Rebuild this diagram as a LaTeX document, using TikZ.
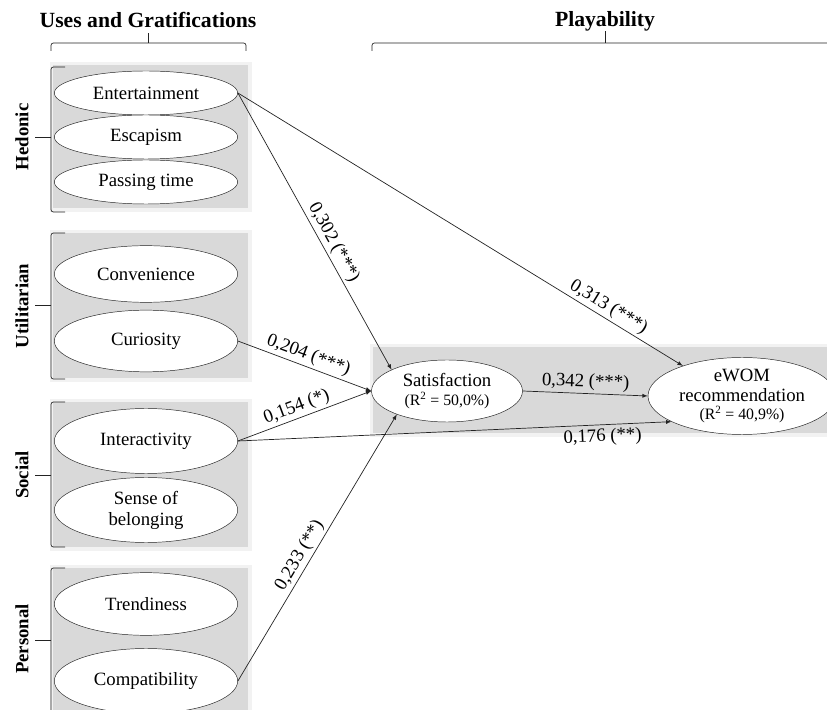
\documentclass[tikz,border=0pt]{standalone}
\usepackage{fontspec}
\setmainfont{Liberation Serif}
\usepackage{xcolor}
\usepackage{tikz}
\usetikzlibrary{positioning, shapes.geometric, arrows}
\definecolor{panel}{RGB}{217, 217, 217}
\definecolor{ink}{RGB}{35, 35, 35}

\begin{document}
\begin{tikzpicture}[x=0.03cm, y=-0.03cm,
        construct/.style={ellipse, draw=ink, fill=white, minimum width=5.5cm, minimum height=#1, inner sep=0pt, align=center, font=\fontsize{16}{18}\selectfont},
        construct/.default=1.9cm,
        group/.style={fill=panel, draw=none},
        bracket/.style={draw=ink, line width=0.6pt, rounded corners=2pt},
        dimension/.style={rotate=90, font=\fontsize{16}{18}\selectfont\bfseries},
        heading/.style={font=\fontsize{18.5}{20}\selectfont\bfseries},
        effect/.style={-latex, draw=ink, line width=0.6pt},
        coef/.style={font=\fontsize{16}{18}\selectfont, sloped, inner sep=2pt}
    ]

        \useasboundingbox (0,0) rectangle (827,710);
        \clip (0,0) rectangle (827,710);

        \foreach \xa/\ya/\xb/\yb in {53/65/248/208, 53/233/248/378, 53/402/248/547, 53/568/248/720, 373/347/840/433}{
            \fill[panel, opacity=0.35] ({\xa-3},{\ya-3}) rectangle ({\xb+4},{\yb+4});
            \fill[group] (\xa,\ya) rectangle (\xb,\yb);
        }

        \node (ug) [heading] at (148,20) {Uses and Gratifications};
        \node (play) [heading] at (605,21) {Playability};
        \draw[bracket] (51,51) -- (51,43) -- (246,43) -- (246,51);
        \draw[bracket] (148,43) -- (148,33);
        \draw[bracket] (372,51) -- (372,43) -- (840,43);
        \draw[bracket] (605,43) -- (605,31);

        \foreach \ytop/\ybot/\ymid in {67/212/137, 233/379/305, 402/547/475, 568/730/640}{
            \draw[bracket] (65,\ytop) -- (51,\ytop) -- (51,\ybot) -- (65,\ybot);
            \draw[bracket] (51,\ymid) -- (35,\ymid);
        }

        \node (hedonic) [dimension] at (22,137) {Hedonic};
        \node (utilitarian) [dimension] at (22,306) {Utilitarian};
        \node (social) [dimension] at (22,475) {Social};
        \node (personal) [dimension] at (22,639) {Personal};

        \node (ent) [construct=1.32cm] at (146,93) {Entertainment};
        \node (esc) [construct=1.32cm] at (146,137) {Escapism};
        \node (pass) [construct=1.32cm] at (146,182) {Passing time};
        \node (conv) [construct=1.7cm] at (146,274) {Convenience};
        \node (cur) [construct=1.85cm] at (146,341) {Curiosity};
        \node (inter) [construct=1.95cm] at (146,441) {Interactivity};
        \node (belong) [construct=1.95cm] at (146,510) {Sense of\\belonging};
        \node (trend) [construct=1.88cm] at (146,604) {Trendiness};
        \node (comp) [construct=1.95cm] at (146,681) {Compatibility};

        \node (sat) [construct=1.86cm, minimum width=4.53cm] at (447,391) {Satisfaction\\[-2pt]{\fontsize{13.5}{15}\selectfont (R\textsuperscript{2} = 50,0\%)}};
        \node (ewom) [construct=2.04cm, minimum width=5.64cm] at (742,396) {eWOM\\[-1pt]recommendation\\[-2pt]{\fontsize{13.5}{15}\selectfont (R\textsuperscript{2} = 40,9\%)}};

        \draw[effect] (ent.east) -- node[coef, above, pos=0.56] {0,302 (***)} (sat.159);
        \draw[effect] (ent.east) -- node[coef, above, pos=0.82] {0,313 (***)} (ewom.153);
        \draw[effect] (cur.east) -- node[coef, above, pos=0.5] {0,204 (***)} (sat.west);
        \draw[effect] (inter.east) -- node[coef, above, pos=0.47] {0,154 (*)} (sat.west);
        \draw[effect] (inter.east) -- node[coef, below, pos=0.84, yshift=-1pt] {0,176 (**)} (ewom.200);
        \draw[effect] (comp.east) -- node[coef, above, pos=0.45] {0,233 (**)} (sat.205);
        \draw[effect] (sat.east) -- node[coef, above] {0,342 (***)} (ewom.west);
    \end{tikzpicture}
\end{document}
